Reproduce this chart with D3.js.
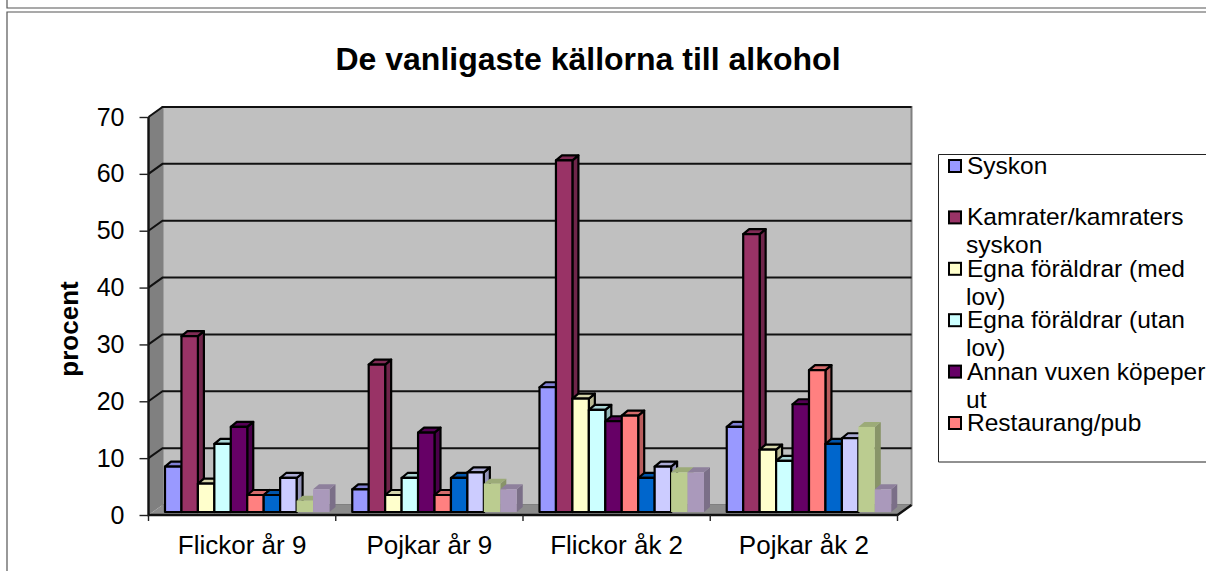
<!DOCTYPE html>
<html>
<head>
<meta charset="utf-8">
<script src="https://cdn.jsdelivr.net/npm/d3@7"></script>
<style>
  html, body { margin: 0; padding: 0; background: #fff; overflow: hidden; }
  text { font-family: "Liberation Sans", Arial, sans-serif; fill: #000; }
</style>
</head>
<body>
<div id="chart"></div>
<script>
// Chart data
const categories = ['Flickor år 9', 'Pojkar år 9', 'Flickor åk 2', 'Pojkar åk 2'];
const seriesNames = ['Syskon', 'Kamrater/kamraters syskon', 'Egna föräldrar (med lov)', 'Egna föräldrar (utan lov)',
    'Annan vuxen köpeper ut', 'Restaurang/pub', 'Serie 7', 'Serie 8', 'Serie 9', 'Serie 10'];
const legendLines = [['Syskon'], ['Kamrater/kamraters', 'syskon'], ['Egna föräldrar (med', 'lov)'],
    ['Egna föräldrar (utan', 'lov)'], ['Annan vuxen köpeper', 'ut'], ['Restaurang/pub']];
const flickor9 = [8, 31, 5, 12, 15, 3, 3, 6, 2, 4];
const pojkar9 = [4, 26, 3, 6, 14, 3, 6, 7, 5, 4];
const flickor2 = [22, 62, 20, 18, 16, 17, 6, 8, 7, 7];
const pojkar2 = [15, 49, 11, 9, 19, 25, 12, 13, 15, 4];
const values = [flickor9, pojkar9, flickor2, pojkar2];
const colors = ['#9999ff', '#993366', '#ffffcc', '#ccffff', '#660066', '#ff8080', '#0066cc', '#ccccff', '#bbcc90', '#aa99bb'];
const yTicks = [0, 10, 20, 30, 40, 50, 60, 70];

const width = 1206, height = 571;
const svg = d3.select('#chart').append('svg')
    .attr('width', width)
    .attr('height', height)
    .style('display', 'block');

// Outer frames
const frame = '#555';
svg.append('path').attr('d', 'M7,0V8H1206').attr('fill', 'none').attr('stroke', frame).attr('stroke-width', 1.2);
svg.append('path').attr('d', 'M1206,12H7V571').attr('fill', 'none').attr('stroke', frame).attr('stroke-width', 1.2);

svg.append('text')
    .attr('x', 588).attr('y', 70)
    .attr('text-anchor', 'middle')
    .style('font-size', '32px').style('font-weight', 'bold')
    .text('De vanligaste källorna till alkohol');

// Scales: front plane of the 3D box, the back wall is shifted by depth
const depthX = 14, depthY = -10;
const y = d3.scaleLinear().domain([0, 70]).range([515, 117]);
const x = d3.scaleBand().domain(categories).range([148.5, 897.5]);
const barX = d3.scaleBand().domain(seriesNames).range([16.5, 181]);
const barY = d3.scaleLinear().domain([0, 70]).range([512, 115]);

// Walls and floor
const x0 = x.range()[0], x1 = x.range()[1];
svg.append('path')
    .attr('d', `M${x1 + depthX},${y(70) + depthY}H${x0 + depthX}V${y(0) + depthY}H${x1 + depthX}Z`)
    .attr('fill', '#c0c0c0').attr('stroke', '#808080').attr('stroke-width', 2);
svg.append('path')
    .attr('d', `M${x0},${y(70)}L${x0 + depthX},${y(70) + depthY}V${y(0) + depthY}L${x0},${y(0)}Z`)
    .attr('fill', '#808080');
svg.append('path')
    .attr('d', `M${x0},${y(0)}L${x0 + depthX},${y(0) + depthY}H${x1 + depthX}L${x1},${y(0)}Z`)
    .attr('fill', '#8c8c8c');

// Gridlines on the walls
yTicks.filter(d => d > 0).forEach(d => {
    svg.append('path')
        .attr('d', `M${x0},${y(d)}L${x0 + depthX},${y(d) + depthY}H${x1 + depthX}`)
        .attr('fill', 'none').attr('stroke', '#111').attr('stroke-width', 2);
});

// Axis frame lines
svg.append('path')
    .attr('d', `M${x0},${y(70)}V${y(0)}H${x1}L${x1 + depthX},${y(0) + depthY}`)
    .attr('fill', 'none').attr('stroke', '#111').attr('stroke-width', 2.4);

// Axes
const yAxis = svg.append('g')
    .attr('transform', `translate(${x0},0)`)
    .call(d3.axisLeft(y).tickValues(yTicks).tickSize(9).tickPadding(15));
yAxis.select('.domain').remove();
yAxis.selectAll('text').style('font-size', '25px');
yAxis.selectAll('line').attr('stroke', '#222').attr('stroke-width', 1.4);

const xAxis = svg.append('g').attr('transform', `translate(0,${y(0)})`);
xAxis.selectAll('line')
    .data(d3.range(categories.length + 1))
    .enter().append('line')
    .attr('x1', i => x0 + i * x.bandwidth())
    .attr('x2', i => x0 + i * x.bandwidth())
    .attr('y1', 0).attr('y2', 6)
    .attr('stroke', '#222').attr('stroke-width', 1.4);
xAxis.selectAll('text')
    .data(categories)
    .enter().append('text')
    .attr('x', d => x(d) + x.bandwidth() / 2)
    .attr('y', 39)
    .attr('text-anchor', 'middle')
    .style('font-size', '26px')
    .text(d => d);

svg.append('text')
    .attr('transform', 'translate(78,329) rotate(-90)')
    .attr('text-anchor', 'middle')
    .style('font-size', '26px').style('font-weight', 'bold')
    .text('procent');

// 3D bars, drawn left to right so each front face covers the side before it
const barDepthX = 6, barDepthY = -5;
categories.forEach((cat, c) => {
    const g = svg.append('g').attr('transform', `translate(${x(cat)},0)`);
    values[c].forEach((v, i) => {
        const left = barX(seriesNames[i]);
        const w = barX.bandwidth();
        const top = barY(v);
        const base = barY(0);
        const col = d3.color(colors[i]);
        const outlined = i < 8;
        const stroke = outlined ? '#000' : 'none';
        const bar = g.append('g').attr('stroke', stroke).attr('stroke-width', 2.2).attr('stroke-linejoin', 'round');
        bar.append('path')
            .attr('d', `M${left + w},${base}V${top}l${barDepthX},${barDepthY}V${base + barDepthY}Z`)
            .attr('fill', col.darker(0.9));
        bar.append('path')
            .attr('d', `M${left},${top}l${barDepthX},${barDepthY}H${left + w + barDepthX}l${-barDepthX},${-barDepthY}Z`)
            .attr('fill', col.darker(0.5));
        bar.append('rect')
            .attr('x', left).attr('y', top)
            .attr('width', w).attr('height', base - top)
            .attr('fill', col);
    });
});

// Legend, cut off by the right edge as in the source picture
svg.append('path')
    .attr('d', 'M1206,154.5H938.5V462H1206')
    .attr('fill', '#fff').attr('stroke', '#222').attr('stroke-width', 1);
const legendY = d3.scaleLinear().domain([0, 5]).range([166, 423]);
const legend = svg.selectAll('.legend-row')
    .data(legendLines)
    .enter().append('g')
    .attr('class', 'legend-row')
    .attr('transform', (d, i) => `translate(0,${legendY(i)})`);
legend.append('rect')
    .attr('x', 949).attr('y', -6)
    .attr('width', 12).attr('height', 12)
    .attr('fill', (d, i) => colors[i])
    .attr('stroke', '#000').attr('stroke-width', 2);
legend.selectAll('text')
    .data(d => d)
    .enter().append('text')
    .attr('x', (d, i) => i === 0 ? 967 : 966)
    .attr('y', (d, i) => 8 + i * 28)
    .style('font-size', '24.5px')
    .text(d => d);
</script>
</body>
</html>
